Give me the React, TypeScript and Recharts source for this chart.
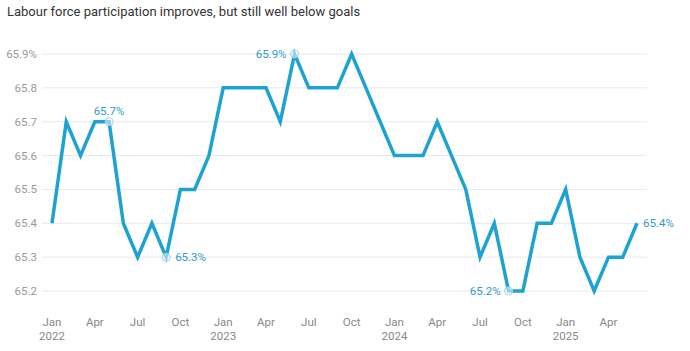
import { CartesianGrid, Line, LineChart, XAxis, YAxis } from 'recharts';

// monthly, Jan 2022 .. Jun 2025
const months = [
  'Jan', 'Feb', 'Mar', 'Apr', 'May', 'Jun', 'Jul', 'Aug', 'Sep', 'Oct', 'Nov', 'Dec',
];
const startYear = 2022;
const participation = [
  65.4, 65.7, 65.6, 65.7, 65.7, 65.4, 65.3, 65.4, 65.3, 65.5, 65.5, 65.6,
  65.8, 65.8, 65.8, 65.8, 65.7, 65.9, 65.8, 65.8, 65.8, 65.9, 65.8, 65.7,
  65.6, 65.6, 65.6, 65.7, 65.6, 65.5, 65.3, 65.4, 65.2, 65.2, 65.4, 65.4,
  65.5, 65.3, 65.2, 65.3, 65.3, 65.4,
];
const xTicks = [0, 3, 6, 9, 12, 15, 18, 21, 24, 27, 30, 33, 36, 39];
const yTicks = [65.2, 65.3, 65.4, 65.5, 65.6, 65.7, 65.8, 65.9];

// annotated points: month index, where the label sits, whether a ring is drawn
const notes: { i: number; pos: 'top' | 'left' | 'right'; ring: boolean }[] = [
  { i: 4, pos: 'top', ring: true },
  { i: 8, pos: 'right', ring: true },
  { i: 17, pos: 'left', ring: true },
  { i: 32, pos: 'left', ring: true },
  { i: 41, pos: 'right', ring: false },
];

const data = participation.map((v, i) => ({ i, v }));

const BLUE = '#1ea2d2';
const LABEL_BLUE = '#2f9cc8';
const FONT = 'Roboto, "Noto Sans", sans-serif';

const YTick = (props: any) => {
  const { x, y, payload } = props;
  const v = Number(payload.value);
  const text = v === 65.9 ? '65.9%' : v.toFixed(1);
  return (
    <text x={x + 3} y={y} dy={4} textAnchor="end" fill="#999" fontSize={11.5} fontFamily={FONT}>
      {text}
    </text>
  );
};

const XTick = (props: any) => {
  const { x, y, payload } = props;
  const idx = Number(payload.value);
  const m = idx % 12;
  const year = startYear + Math.floor(idx / 12);
  return (
    <g>
      <text x={x} y={y} dy={27} textAnchor="middle" fill="#888" fontSize={11.5} fontFamily={FONT}>
        {months[m]}
      </text>
      {m === 0 && (
        <text x={x} y={y} dy={41} textAnchor="middle" fill="#888" fontSize={11.5} fontFamily={FONT}>
          {year}
        </text>
      )}
    </g>
  );
};

const Dot = (props: any) => {
  const { cx, cy, index, value } = props;
  const note = notes.find((n) => n.i === index);
  if (!note) return <g key={index} />;
  const label = `${Number(value).toFixed(1)}%`;
  let tx = cx;
  let ty = cy + 4;
  let anchor: 'start' | 'end' | 'middle' = 'middle';
  if (note.pos === 'top') {
    ty = cy - 7;
  } else if (note.pos === 'left') {
    tx = cx - 8;
    anchor = 'end';
  } else {
    tx = cx + (note.ring ? 9 : 6);
    anchor = 'start';
  }
  return (
    <g key={index}>
      {note.ring && (
        <circle cx={cx} cy={cy} r={4} fill="#ffffff" fillOpacity={0.5} stroke="#9fd2ea" strokeWidth={1} />
      )}
      <text x={tx} y={ty} textAnchor={anchor} fill={LABEL_BLUE} fontSize={11.5} fontFamily={FONT}>
        {label}
      </text>
    </g>
  );
};

export default function App() {
  return (
    <div style={{ position: 'absolute', left: 0, top: 0, width: 690, height: 351, background: '#fff' }}>
      <div
        style={{
          position: 'absolute',
          left: 7,
          top: 4,
          fontFamily: FONT,
          fontSize: 13,
          color: '#333',
          whiteSpace: 'nowrap',
        }}
      >
        Labour force participation improves, but still well below goals
      </div>
      <LineChart
        width={690}
        height={351}
        data={data}
        margin={{ top: 54, right: 43, bottom: 0, left: 0 }}
      >
        <CartesianGrid stroke="#e6e9ec" vertical={false} />
        <XAxis
          dataKey="i"
          type="number"
          domain={[0, 41]}
          ticks={xTicks}
          padding={{ left: 10, right: 10 }}
          axisLine={false}
          tickLine={false}
          tick={<XTick />}
          height={60}
          interval={0}
        />
        <YAxis
          domain={[65.2, 65.9]}
          ticks={yTicks}
          axisLine={false}
          tickLine={false}
          tick={<YTick />}
          width={42}
          interval={0}
        />
        <Line
          dataKey="v"
          stroke={BLUE}
          strokeWidth={3.5}
          strokeLinejoin="miter"
          dot={<Dot />}
          activeDot={false}
          isAnimationActive={false}
        />
      </LineChart>
    </div>
  );
}
